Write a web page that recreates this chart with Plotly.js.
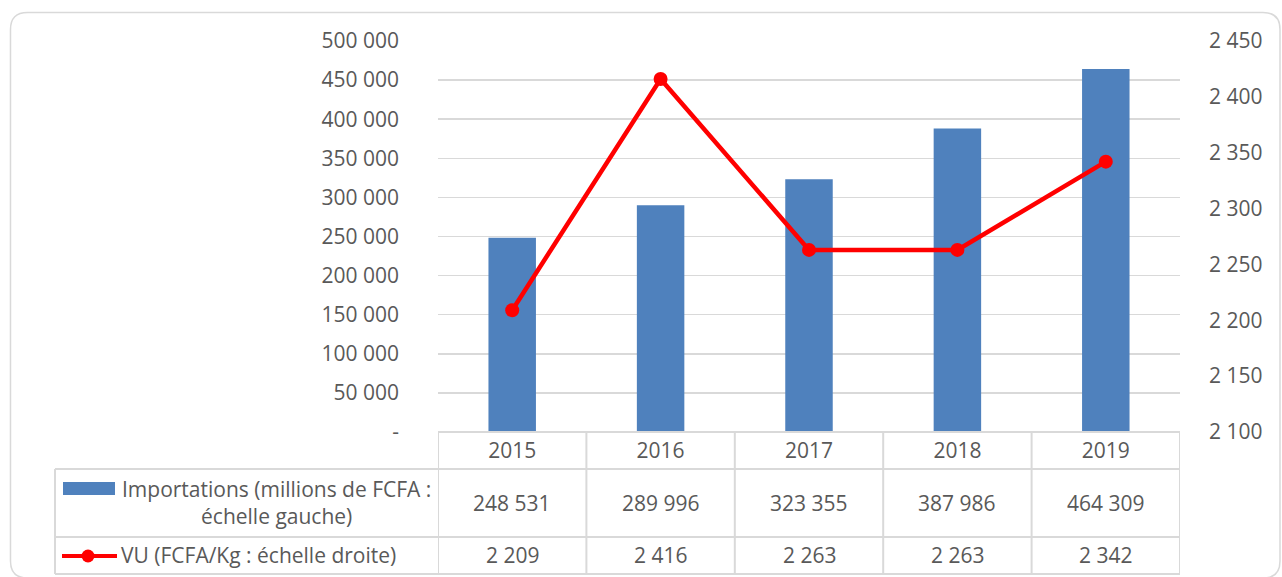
<!DOCTYPE html>
<html>
<head>
<meta charset="utf-8">
<script src="https://cdn.plot.ly/plotly-3.0.1.min.js"></script>
<style>html,body{margin:0;padding:0;background:#fff;}#chart{width:1282px;height:577px;}</style>
</head>
<body>
<div id="chart"></div>
<script>
// ---- data ----
const years = ['2015', '2016', '2017', '2018', '2019'];
const importations = [248531, 289996, 323355, 387986, 464309];
const vu = [2209, 2416, 2263, 2263, 2342];
const importName = 'Importations (millions de FCFA :<br>échelle gauche)';
const vuName = 'VU (FCFA/Kg : échelle droite)';
const leftTickVals = [0, 50000, 100000, 150000, 200000, 250000, 300000, 350000, 400000, 450000, 500000];
const leftTickText = ['-', '50 000', '100 000', '150 000', '200 000', '250 000', '300 000', '350 000', '400 000', '450 000', '500 000'];
const rightTickVals = [2100, 2150, 2200, 2250, 2300, 2350, 2400, 2450];
const rightTickText = ['2 100', '2 150', '2 200', '2 250', '2 300', '2 350', '2 400', '2 450'];

// ---- style ----
const W = 1282, H = 577;
const PL = 438, PR = 1180, PT = 41, PB = 432;
const FONT = "'Open Sans', sans-serif";
const TXT = '#595959';
const GRID = '#D9D9D9';
const BLUE = '#4F81BD';
const RED = '#FF0000';
const FS = 21;

const fmt = v => String(v).replace(/\B(?=(\d{3})+(?!\d))/g, ' ');
const px = x => (x - PL) / (PR - PL);
const py = y => (PB - y) / (PB - PT);

// rounded outer border
function roundRect(l, t, r, b, rad) {
  const p = (x, y) => px(x).toFixed(5) + ',' + py(y).toFixed(5);
  return 'M' + p(l + rad, t) + ' L' + p(r - rad, t) + ' Q' + p(r, t) + ' ' + p(r, t + rad) +
    ' L' + p(r, b - rad) + ' Q' + p(r, b) + ' ' + p(r - rad, b) +
    ' L' + p(l + rad, b) + ' Q' + p(l, b) + ' ' + p(l, b - rad) +
    ' L' + p(l, t + rad) + ' Q' + p(l, t) + ' ' + p(l + rad, t) + ' Z';
}

const rowY = [469, 537, 574];
const shapes = [];
shapes.push({type: 'path', xref: 'paper', yref: 'paper', path: roundRect(10.5, 12.5, 1280, 578, 17),
  line: {color: GRID, width: 1.5}, fillcolor: 'rgba(0,0,0,0)', layer: 'below'});
// horizontal table lines
shapes.push({type: 'line', xref: 'paper', yref: 'paper', x0: px(438), x1: px(PR), y0: py(PB), y1: py(PB), line: {color: GRID, width: 2}});
rowY.forEach(y => shapes.push({type: 'line', xref: 'paper', yref: 'paper', x0: px(55), x1: px(PR), y0: py(y), y1: py(y), line: {color: GRID, width: 2}}));
// left legend column border
shapes.push({type: 'line', xref: 'paper', yref: 'paper', x0: px(55), x1: px(55), y0: py(469), y1: py(574), line: {color: GRID, width: 2}});
// vertical separators between categories
for (let i = 0; i <= years.length; i++) {
  shapes.push({type: 'line', xref: 'x', yref: 'paper', x0: i - 0.5, x1: i - 0.5, y0: py(PB), y1: py(574), line: {color: GRID, width: 2}});
}
// legend keys
shapes.push({type: 'rect', xref: 'paper', yref: 'paper', x0: px(63), x1: px(115), y0: py(482), y1: py(495), fillcolor: BLUE, line: {width: 0}});
shapes.push({type: 'line', xref: 'paper', yref: 'paper', x0: px(62), x1: px(117), y0: py(556), y1: py(556), line: {color: RED, width: 4}});
shapes.push({type: 'circle', xref: 'paper', yref: 'paper', x0: px(81.5), x1: px(94.5), y0: py(549.5), y1: py(562.5), fillcolor: RED, line: {color: RED, width: 0}});

const annotations = [];
annotations.push({xref: 'paper', yref: 'paper', x: px(276), y: py(503), text: importName, showarrow: false,
  xanchor: 'center', yanchor: 'middle', align: 'center', font: {family: FONT, size: FS, color: TXT}});
annotations.push({xref: 'paper', yref: 'paper', x: px(119), y: py(555), text: vuName, showarrow: false,
  xanchor: 'left', yanchor: 'middle', align: 'left', font: {family: FONT, size: FS, color: TXT}});
years.forEach((yr, i) => {
  annotations.push({xref: 'x', yref: 'paper', x: i, y: py(503), text: fmt(importations[i]), showarrow: false,
    xanchor: 'center', yanchor: 'middle', font: {family: FONT, size: FS, color: TXT}});
  annotations.push({xref: 'x', yref: 'paper', x: i, y: py(555), text: fmt(vu[i]), showarrow: false,
    xanchor: 'center', yanchor: 'middle', font: {family: FONT, size: FS, color: TXT}});
});

const traces = [
  {type: 'bar', x: years, y: importations, name: 'Importations', marker: {color: BLUE}, width: 0.32,
   yaxis: 'y', hoverinfo: 'x+y'},
  {type: 'scatter', mode: 'lines+markers', x: years, y: vu, name: 'VU', yaxis: 'y2',
   line: {color: RED, width: 4.5}, marker: {color: RED, size: 14}}
];

const layout = {
  width: W, height: H,
  margin: {l: PL, r: W - PR, t: PT, b: H - PB, pad: 0},
  paper_bgcolor: '#fff', plot_bgcolor: '#fff',
  showlegend: false,
  font: {family: FONT, size: FS, color: TXT},
  xaxis: {type: 'category', range: [-0.5, years.length - 0.5], showgrid: false, zeroline: false,
    showline: false, ticks: '', ticklabelstandoff: 4, tickfont: {family: FONT, size: FS, color: TXT}},
  yaxis: {range: [0, 500000], tickvals: leftTickVals, ticktext: leftTickText, showgrid: true,
    gridcolor: GRID, gridwidth: 1.5, zeroline: false, showline: false, ticks: '',
    ticklabelstandoff: 38, tickfont: {family: FONT, size: FS, color: TXT}},
  yaxis2: {range: [2100, 2450], overlaying: 'y', side: 'right', tickvals: rightTickVals, ticktext: rightTickText,
    showgrid: false, zeroline: false, showline: false, ticks: '', ticklabelstandoff: 28,
    tickfont: {family: FONT, size: FS, color: TXT}},
  shapes: shapes,
  annotations: annotations
};

Plotly.newPlot('chart', traces, layout, {displayModeBar: false, staticPlot: true});
</script>
</body>
</html>
